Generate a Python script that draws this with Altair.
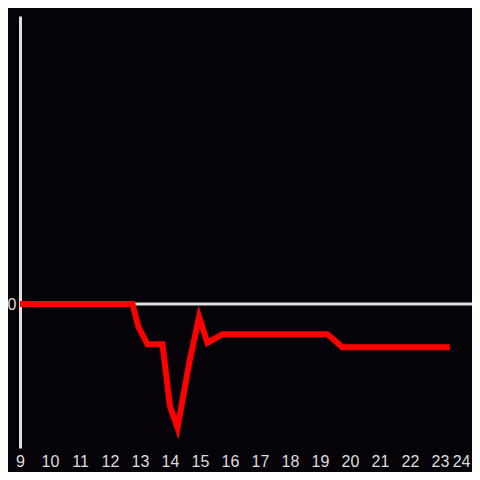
import altair as alt
import pandas as pd

hours = [9.0, 12.75, 12.95, 13.25, 13.75, 14.0, 14.25, 14.65, 14.97, 15.25, 15.75, 19.25, 19.75, 23.33]
values = [0, 0, -16, -28, -28, -71, -86, -40, -9, -27, -21, -21, -30, -30]
tick_hours = list(range(9, 25))

df = pd.DataFrame({"hour": hours, "value": values})

x = alt.X("hour:Q", scale=alt.Scale(domain=[9, 24.067], nice=False, zero=False),
          axis=alt.Axis(values=tick_hours, title=None, grid=False, domain=False,
                        ticks=False, labelPadding=5, labelColor="#dddddd", labelFontSize=16,
                        labelFont="Liberation Sans", labelFlush=False, labelOverlap=False,
                        labelBound=False,
                        labelAlign=alt.expr("datum.value == 24 ? 'right' : 'center'")))
y = alt.Y("value:Q", scale=alt.Scale(domain=[-100, 200], nice=False),
          axis=alt.Axis(values=[0], title=None, grid=False, domain=True, domainColor="#e0e0e0",
                        domainWidth=3, ticks=False, labelPadding=4, labelColor="#dddddd",
                        labelFontSize=16, labelFont="Liberation Sans"))

zero = alt.Chart(pd.DataFrame({"z": [0]})).mark_rule(color="#e0e0e0", strokeWidth=3).encode(
    y=alt.Y("z:Q", scale=alt.Scale(domain=[-100, 200], nice=False)))

line = alt.Chart(df).mark_line(color="#ff0000", strokeWidth=6, strokeJoin="miter").encode(x=x, y=y)

chart = alt.layer(zero, line).properties(
    width=452, height=432,
    background="#050307",
    padding={"left": 12, "top": 8, "right": 0, "bottom": 24},
    autosize=alt.AutoSizeParams(type="none"),
).configure_view(stroke=None)

chart.save("out.html", embed_options={"renderer": "svg", "actions": False})
